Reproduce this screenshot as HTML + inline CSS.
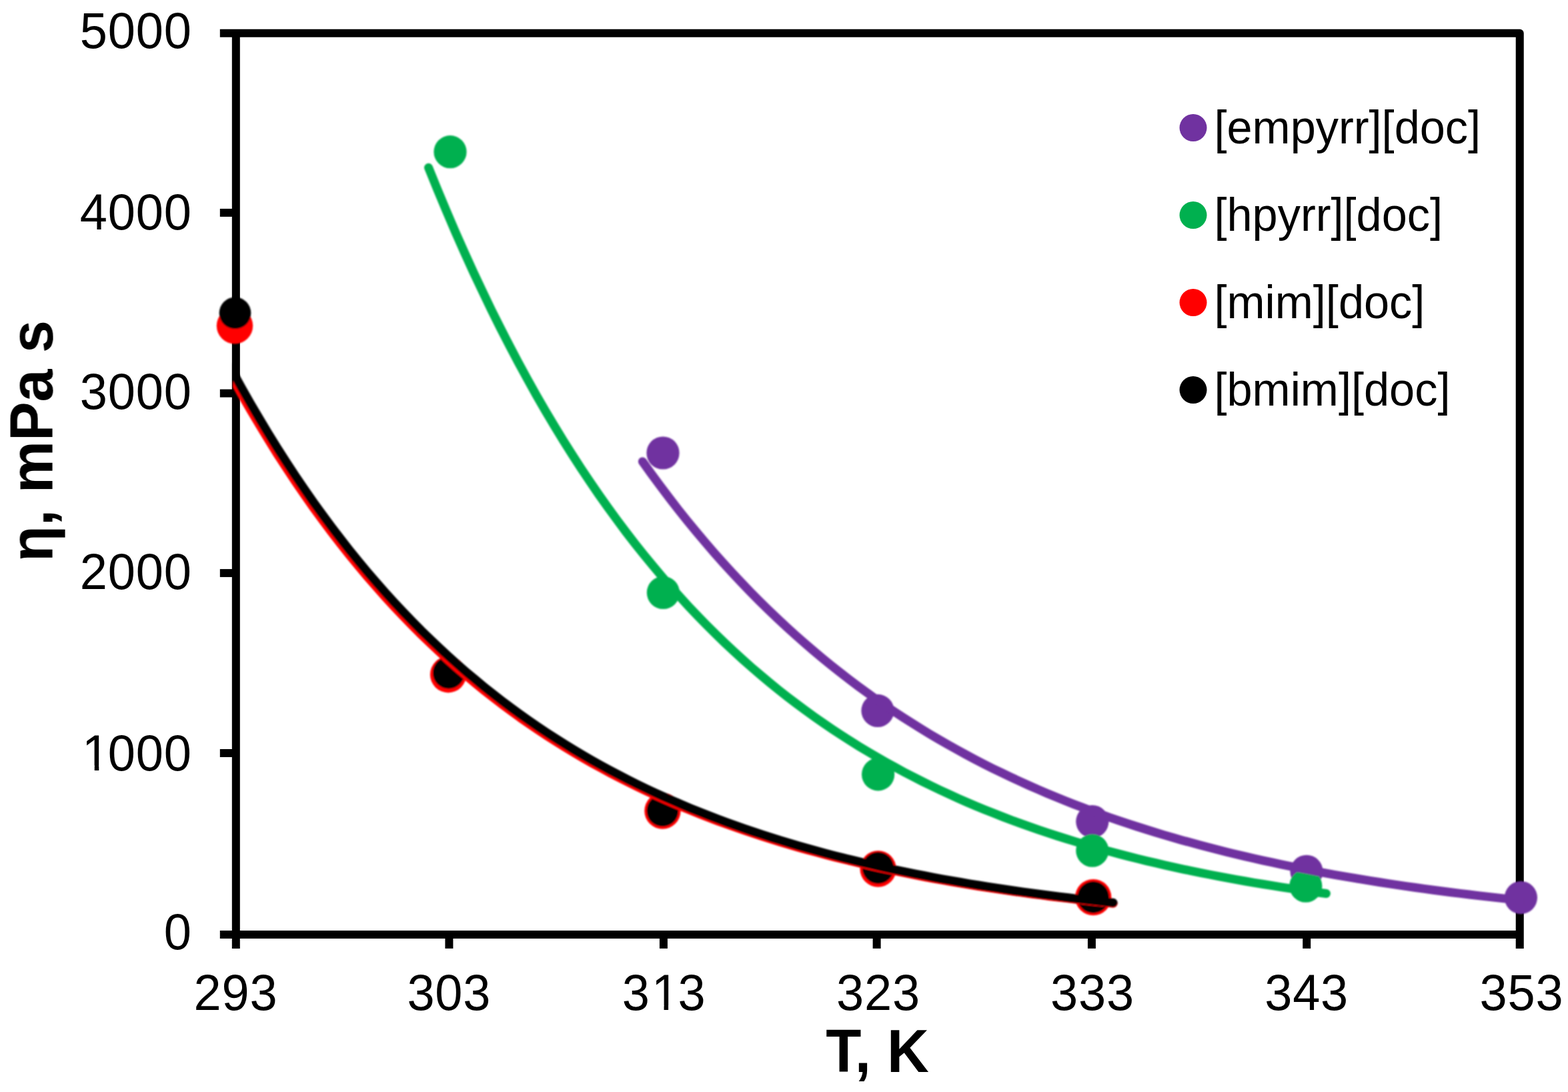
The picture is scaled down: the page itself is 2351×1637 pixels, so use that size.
<!DOCTYPE html>
<html lang="en"><head><meta charset="utf-8"><title>Viscosity vs temperature</title>
<style>
html,body{margin:0;padding:0;background:#fff;}
body{width:2351px;height:1637px;overflow:hidden;}
svg{display:block;}
</style></head><body>
<svg width="2351" height="1637" viewBox="0 0 2351 1637" role="img" aria-label="Viscosity versus temperature">
<rect x="0" y="0" width="2351" height="1637" fill="#fff"/>
<filter id="soft" x="0" y="0" width="2351" height="1637" filterUnits="userSpaceOnUse"><feGaussianBlur stdDeviation="1.0"/></filter>
<filter id="soft3" x="0" y="0" width="2351" height="1637" filterUnits="userSpaceOnUse"><feGaussianBlur stdDeviation="0.7"/></filter>
<filter id="soft2" x="0" y="0" width="2351" height="1637" filterUnits="userSpaceOnUse"><feGaussianBlur stdDeviation="0.6"/></filter>
<g stroke="#000" stroke-width="12" fill="none" stroke-linecap="butt" filter="url(#soft2)">
<path d="M329.8,49.7 H2278.7 V1421.9" stroke-linejoin="round"/>
<path d="M353.8,49.7 V1421.9"/>
<path d="M329.8,1400.9 H2278.7"/>
<path d="M329.8,1129.0 H353.8"/>
<path d="M329.8,859.1 H353.8"/>
<path d="M329.8,589.6 H353.8"/>
<path d="M329.8,318.9 H353.8"/>
<path d="M673.4,1400.9 V1421.9"/>
<path d="M994.9,1400.9 V1421.9"/>
<path d="M1314.6,1400.9 V1421.9"/>
<path d="M1636.9,1400.9 V1421.9"/>
<path d="M1959.2,1400.9 V1421.9"/>
</g>
<g filter="url(#soft)">
<circle cx="994.0" cy="679.0" r="24.6" fill="#7030A0"/>
<circle cx="1316.0" cy="1065.4" r="24.6" fill="#7030A0"/>
<circle cx="1637.8" cy="1231.6" r="24.6" fill="#7030A0"/>
<circle cx="1959.0" cy="1306.3" r="24.6" fill="#7030A0"/>
<circle cx="2280.4" cy="1345.6" r="24.6" fill="#7030A0"/>
<circle cx="675.0" cy="227.7" r="24.6" fill="#00B050"/>
<circle cx="994.4" cy="888.5" r="24.6" fill="#00B050"/>
<circle cx="1316.6" cy="1160.8" r="24.6" fill="#00B050"/>
<circle cx="1637.8" cy="1275.2" r="24.6" fill="#00B050"/>
<circle cx="1957.8" cy="1328.2" r="24.6" fill="#00B050"/>
<circle cx="352.0" cy="488.3" r="27.2" fill="#FF0000"/>
<circle cx="672.1" cy="1011.2" r="27.2" fill="#FF0000"/>
<circle cx="993.4" cy="1215.6" r="27.2" fill="#FF0000"/>
<circle cx="1316.6" cy="1302.5" r="27.2" fill="#FF0000"/>
<circle cx="1639.2" cy="1345.1" r="27.2" fill="#FF0000"/>
<circle cx="352.5" cy="469.3" r="23.8" fill="#000000"/>
<circle cx="672.7" cy="1008.7" r="23.8" fill="#000000"/>
<circle cx="993.4" cy="1215.3" r="23.8" fill="#000000"/>
<circle cx="1316.6" cy="1301.0" r="23.8" fill="#000000"/>
<circle cx="1639.2" cy="1345.1" r="23.8" fill="#000000"/>
<clipPath id="plot"><rect x="349" y="49.7" width="1935.6999999999998" height="1351.2"/></clipPath>
<g clip-path="url(#plot)">
<polyline points="963.4,691.9 976.8,710.6 990.3,728.9 1003.8,746.7 1017.2,764.1 1030.7,781.0 1044.2,797.4 1057.7,813.4 1071.1,828.9 1084.6,844.1 1098.1,858.9 1111.6,873.2 1125.0,887.2 1138.5,900.8 1152.0,914.1 1165.5,927.0 1178.9,939.5 1192.4,951.8 1205.9,963.7 1219.4,975.3 1232.8,986.5 1246.3,997.5 1259.8,1008.2 1273.3,1018.6 1286.7,1028.7 1300.2,1038.6 1313.7,1048.2 1327.2,1057.6 1340.6,1066.7 1354.1,1075.5 1367.6,1084.1 1381.1,1092.5 1394.5,1100.7 1408.0,1108.7 1421.5,1116.4 1435.0,1123.9 1448.4,1131.3 1461.9,1138.4 1475.4,1145.4 1488.8,1152.2 1502.3,1158.7 1515.8,1165.2 1529.3,1171.4 1542.7,1177.5 1556.2,1183.4 1569.7,1189.2 1583.2,1194.8 1596.6,1200.3 1610.1,1205.6 1623.6,1210.7 1637.1,1215.8 1650.5,1220.7 1664.0,1225.5 1677.5,1230.1 1691.0,1234.6 1704.4,1239.0 1717.9,1243.3 1731.4,1247.5 1744.9,1251.6 1758.3,1255.5 1771.8,1259.4 1785.3,1263.1 1798.8,1266.8 1812.2,1270.3 1825.7,1273.8 1839.2,1277.2 1852.7,1280.5 1866.1,1283.6 1879.6,1286.8 1893.1,1289.8 1906.6,1292.7 1920.0,1295.6 1933.5,1298.4 1947.0,1301.1 1960.4,1303.7 1973.9,1306.3 1987.4,1308.8 2000.9,1311.3 2014.3,1313.6 2027.8,1315.9 2041.3,1318.2 2054.8,1320.4 2068.2,1322.5 2081.7,1324.6 2095.2,1326.6 2108.7,1328.6 2122.1,1330.5 2135.6,1332.4 2149.1,1334.2 2162.6,1336.0 2176.0,1337.7 2189.5,1339.4 2203.0,1341.0 2216.5,1342.6 2229.9,1344.1 2243.4,1345.6 2256.9,1347.1 2270.4,1348.5 2283.8,1349.9 2297.3,1351.3 2310.8,1352.6" fill="none" stroke="#7030A0" stroke-width="13" stroke-linecap="round" stroke-linejoin="round"/>
<polyline points="642.5,251.3 656.0,284.5 669.5,316.8 682.9,348.1 696.4,378.5 709.8,408.0 723.3,436.6 736.7,464.5 750.2,491.5 763.7,517.8 777.1,543.3 790.6,568.0 804.0,592.1 817.5,615.4 831.0,638.1 844.4,660.1 857.9,681.5 871.3,702.3 884.8,722.4 898.2,742.0 911.7,761.1 925.2,779.5 938.6,797.5 952.1,814.9 965.5,831.8 979.0,848.2 992.4,864.2 1005.9,879.7 1019.4,894.7 1032.8,909.3 1046.3,923.5 1059.7,937.3 1073.2,950.7 1086.7,963.7 1100.1,976.3 1113.6,988.6 1127.0,1000.5 1140.5,1012.0 1153.9,1023.3 1167.4,1034.2 1180.9,1044.8 1194.3,1055.0 1207.8,1065.0 1221.2,1074.7 1234.7,1084.1 1248.2,1093.3 1261.6,1102.2 1275.1,1110.8 1288.5,1119.2 1302.0,1127.3 1315.4,1135.2 1328.9,1142.9 1342.4,1150.3 1355.8,1157.6 1369.3,1164.6 1382.7,1171.4 1396.2,1178.0 1409.7,1184.5 1423.1,1190.7 1436.6,1196.8 1450.0,1202.7 1463.5,1208.4 1476.9,1213.9 1490.4,1219.3 1503.9,1224.6 1517.3,1229.7 1530.8,1234.6 1544.2,1239.4 1557.7,1244.1 1571.2,1248.6 1584.6,1253.0 1598.1,1257.3 1611.5,1261.4 1625.0,1265.5 1638.4,1269.4 1651.9,1273.2 1665.4,1276.8 1678.8,1280.4 1692.3,1283.9 1705.7,1287.3 1719.2,1290.6 1732.7,1293.7 1746.1,1296.8 1759.6,1299.8 1773.0,1302.8 1786.5,1305.6 1799.9,1308.3 1813.4,1311.0 1826.9,1313.6 1840.3,1316.1 1853.8,1318.6 1867.2,1321.0 1880.7,1323.3 1894.2,1325.5 1907.6,1327.7 1921.1,1329.8 1934.5,1331.9 1948.0,1333.8 1961.4,1335.8 1974.9,1337.7 1988.4,1339.5" fill="none" stroke="#00B050" stroke-width="13" stroke-linecap="round" stroke-linejoin="round"/>
<polyline points="321.7,516.2 335.2,541.9 348.7,566.8 362.1,591.0 375.6,614.5 389.1,637.3 402.6,659.4 416.0,681.0 429.5,701.8 443.0,722.1 456.5,741.8 469.9,760.9 483.4,779.5 496.9,797.5 510.4,815.0 523.8,832.0 537.3,848.5 550.8,864.6 564.3,880.1 577.7,895.2 591.2,909.9 604.7,924.1 618.2,938.0 631.6,951.4 645.1,964.4 658.6,977.1 672.1,989.4 685.5,1001.3 699.0,1012.9 712.5,1024.2 725.9,1035.1 739.4,1045.7 752.9,1056.0 766.4,1066.0 779.8,1075.8 793.3,1085.2 806.8,1094.3 820.3,1103.2 833.7,1111.9 847.2,1120.3 860.7,1128.4 874.2,1136.3 887.6,1144.0 901.1,1151.4 914.6,1158.7 928.1,1165.7 941.5,1172.5 955.0,1179.2 968.5,1185.6 982.0,1191.8 995.4,1197.9 1008.9,1203.8 1022.4,1209.5 1035.9,1215.1 1049.3,1220.4 1062.8,1225.7 1076.3,1230.8 1089.8,1235.7 1103.2,1240.5 1116.7,1245.1 1130.2,1249.7 1143.7,1254.1 1157.1,1258.3 1170.6,1262.5 1184.1,1266.5 1197.5,1270.4 1211.0,1274.2 1224.5,1277.8 1238.0,1281.4 1251.4,1284.9 1264.9,1288.2 1278.4,1291.5 1291.9,1294.7 1305.3,1297.8 1318.8,1300.8 1332.3,1303.7 1345.8,1306.5 1359.2,1309.2 1372.7,1311.9 1386.2,1314.5 1399.7,1317.0 1413.1,1319.4 1426.6,1321.8 1440.1,1324.1 1453.6,1326.3 1467.0,1328.5 1480.5,1330.6 1494.0,1332.6 1507.5,1334.6 1520.9,1336.5 1534.4,1338.4 1547.9,1340.2 1561.4,1341.9 1574.8,1343.7 1588.3,1345.3 1601.8,1346.9 1615.3,1348.5 1628.7,1350.0 1642.2,1351.5 1655.7,1352.9 1669.1,1354.3" fill="none" stroke="#FF0000" stroke-width="13" stroke-linecap="round" stroke-linejoin="round"/>
<polyline points="321.7,505.8 335.2,531.7 348.7,556.8 362.1,581.2 375.6,604.9 389.1,627.9 402.6,650.3 416.0,672.0 429.5,693.1 443.0,713.5 456.5,733.4 469.9,752.7 483.4,771.4 496.9,789.6 510.4,807.3 523.8,824.5 537.3,841.1 550.8,857.3 564.3,873.0 577.7,888.3 591.2,903.1 604.7,917.5 618.2,931.5 631.6,945.1 645.1,958.2 658.6,971.0 672.1,983.5 685.5,995.5 699.0,1007.3 712.5,1018.6 725.9,1029.7 739.4,1040.4 752.9,1050.8 766.4,1061.0 779.8,1070.8 793.3,1080.3 806.8,1089.6 820.3,1098.6 833.7,1107.3 847.2,1115.8 860.7,1124.1 874.2,1132.1 887.6,1139.9 901.1,1147.4 914.6,1154.7 928.1,1161.8 941.5,1168.8 955.0,1175.5 968.5,1182.0 982.0,1188.3 995.4,1194.5 1008.9,1200.4 1022.4,1206.2 1035.9,1211.9 1049.3,1217.3 1062.8,1222.6 1076.3,1227.8 1089.8,1232.8 1103.2,1237.7 1116.7,1242.4 1130.2,1247.0 1143.7,1251.4 1157.1,1255.7 1170.6,1259.9 1184.1,1264.0 1197.5,1268.0 1211.0,1271.8 1224.5,1275.5 1238.0,1279.2 1251.4,1282.7 1264.9,1286.1 1278.4,1289.4 1291.9,1292.6 1305.3,1295.8 1318.8,1298.8 1332.3,1301.8 1345.8,1304.6 1359.2,1307.4 1372.7,1310.1 1386.2,1312.7 1399.7,1315.3 1413.1,1317.8 1426.6,1320.2 1440.1,1322.5 1453.6,1324.8 1467.0,1327.0 1480.5,1329.1 1494.0,1331.2 1507.5,1333.2 1520.9,1335.2 1534.4,1337.1 1547.9,1338.9 1561.4,1340.7 1574.8,1342.4 1588.3,1344.1 1601.8,1345.8 1615.3,1347.4 1628.7,1348.9 1642.2,1350.4 1655.7,1351.9 1669.1,1353.3" fill="none" stroke="#000000" stroke-width="13" stroke-linecap="round" stroke-linejoin="round"/>
</g>
</g>
<g filter="url(#soft3)">
<text transform="translate(287.6,1423.3) scale(1,1.035)" font-family="'Liberation Sans', Arial, sans-serif" font-size="74" letter-spacing="0.8" text-anchor="end" fill="#000">0</text>
<text transform="translate(119.82,1154.6) scale(1,1.035)" x="3.30 41.94 83.89 125.83" font-family="'Liberation Sans', Arial, sans-serif" font-size="74" fill="#000">1000</text>
<rect x="126.72" y="1147.6" width="15.0" height="9" fill="#fff"/>
<rect x="148.28" y="1147.6" width="15.0" height="9" fill="#fff"/>
<text transform="translate(287.6,882.8) scale(1,1.035)" font-family="'Liberation Sans', Arial, sans-serif" font-size="74" letter-spacing="0.8" text-anchor="end" fill="#000">2000</text>
<text transform="translate(287.6,613.3) scale(1,1.035)" font-family="'Liberation Sans', Arial, sans-serif" font-size="74" letter-spacing="0.8" text-anchor="end" fill="#000">3000</text>
<text transform="translate(287.6,344.1) scale(1,1.035)" font-family="'Liberation Sans', Arial, sans-serif" font-size="74" letter-spacing="0.8" text-anchor="end" fill="#000">4000</text>
<text transform="translate(287.6,71.9) scale(1,1.035)" font-family="'Liberation Sans', Arial, sans-serif" font-size="74" letter-spacing="0.8" text-anchor="end" fill="#000">5000</text>
<text transform="translate(353.5,1514.4) scale(1,1.035)" font-family="'Liberation Sans', Arial, sans-serif" font-size="74" letter-spacing="0.8" text-anchor="middle" fill="#000">293</text>
<text transform="translate(673.3,1514.4) scale(1,1.035)" font-family="'Liberation Sans', Arial, sans-serif" font-size="74" letter-spacing="0.8" text-anchor="middle" fill="#000">303</text>
<text transform="translate(932.68,1514.4) scale(1,1.035)" x="0.00 44.24 83.89" font-family="'Liberation Sans', Arial, sans-serif" font-size="74" fill="#000">313</text>
<rect x="980.53" y="1507.4" width="15.0" height="9" fill="#fff"/>
<rect x="1002.09" y="1507.4" width="15.0" height="9" fill="#fff"/>
<text transform="translate(1317.0,1514.4) scale(1,1.035)" font-family="'Liberation Sans', Arial, sans-serif" font-size="74" letter-spacing="0.8" text-anchor="middle" fill="#000">323</text>
<text transform="translate(1637.9,1514.4) scale(1,1.035)" font-family="'Liberation Sans', Arial, sans-serif" font-size="74" letter-spacing="0.8" text-anchor="middle" fill="#000">333</text>
<text transform="translate(1959.1,1514.4) scale(1,1.035)" font-family="'Liberation Sans', Arial, sans-serif" font-size="74" letter-spacing="0.8" text-anchor="middle" fill="#000">343</text>
<text transform="translate(2281.4,1514.4) scale(1,1.035)" font-family="'Liberation Sans', Arial, sans-serif" font-size="74" letter-spacing="0.8" text-anchor="middle" fill="#000">353</text>
<text transform="translate(1315.5,1607.3) scale(1,1.04)" font-family="'Liberation Sans', Arial, sans-serif" font-size="87" font-weight="bold" text-anchor="middle" fill="#000">T, K</text>
<text transform="translate(78.8,661.0) rotate(-90) scale(1,1.04)" font-family="'Liberation Sans', Arial, sans-serif" font-size="88" font-weight="bold" text-anchor="middle" fill="#000">η, mPa s</text>
<circle cx="1789" cy="191.5" r="20.5" fill="#7030A0"/>
<text transform="translate(1820.5,215.3) scale(1,1.03)" font-family="'Liberation Sans', Arial, sans-serif" font-size="68.5" text-anchor="start" fill="#000">[empyrr][doc]</text>
<circle cx="1789" cy="322.5" r="20.5" fill="#00B050"/>
<text transform="translate(1820.5,346.3) scale(1,1.03)" font-family="'Liberation Sans', Arial, sans-serif" font-size="68.5" text-anchor="start" fill="#000">[hpyrr][doc]</text>
<circle cx="1789" cy="453.5" r="20.5" fill="#FF0000"/>
<text transform="translate(1820.5,477.3) scale(1,1.03)" font-family="'Liberation Sans', Arial, sans-serif" font-size="68.5" text-anchor="start" fill="#000">[mim][doc]</text>
<circle cx="1789" cy="584.5" r="20.5" fill="#000000"/>
<text transform="translate(1820.5,608.3) scale(1,1.03)" font-family="'Liberation Sans', Arial, sans-serif" font-size="68.5" text-anchor="start" fill="#000">[bmim][doc]</text>
</g>
</svg>
</body></html>
